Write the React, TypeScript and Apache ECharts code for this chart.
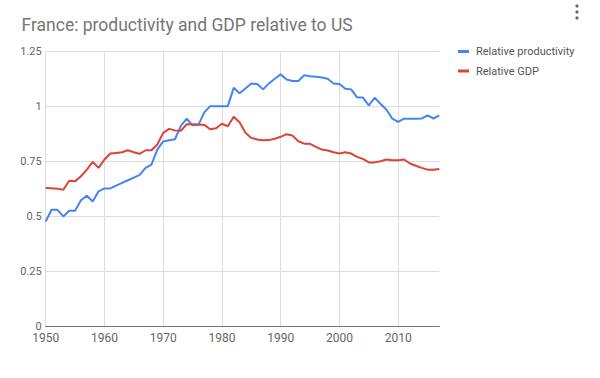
import React, { useEffect, useRef } from "react";
import * as echarts from "echarts";

const years: number[] = [];
for (let y = 1950; y <= 2017; y++) years.push(y);

const productivity = [
  0.477, 0.53, 0.53, 0.5, 0.526, 0.526, 0.573, 0.594, 0.568, 0.614,
  0.627, 0.627, 0.64, 0.652, 0.664, 0.676, 0.688, 0.72, 0.735, 0.803,
  0.84, 0.845, 0.85, 0.91, 0.943, 0.913, 0.915, 0.972, 1.0, 1.0,
  1.0, 1.0, 1.083, 1.058, 1.08, 1.103, 1.1, 1.076, 1.103, 1.124,
  1.144, 1.121, 1.114, 1.114, 1.14, 1.136, 1.133, 1.13, 1.124, 1.103,
  1.1, 1.079, 1.076, 1.04, 1.039, 1.003, 1.038, 1.01, 0.985, 0.943,
  0.929, 0.943, 0.943, 0.943, 0.944, 0.958, 0.944, 0.958,
];

const gdp = [
  0.629, 0.628, 0.626, 0.621, 0.662, 0.659, 0.682, 0.712, 0.747, 0.72,
  0.758, 0.785, 0.788, 0.791, 0.8, 0.791, 0.784, 0.8, 0.8, 0.826,
  0.879, 0.897, 0.89, 0.888, 0.918, 0.918, 0.917, 0.915, 0.895, 0.9,
  0.92, 0.909, 0.952, 0.927, 0.879, 0.856, 0.849, 0.845, 0.846, 0.852,
  0.861, 0.873, 0.867, 0.841, 0.83, 0.829, 0.815, 0.803, 0.799, 0.791,
  0.785, 0.791, 0.785, 0.77, 0.761, 0.745, 0.745, 0.75, 0.758, 0.755,
  0.755, 0.758, 0.74, 0.73, 0.72, 0.712, 0.712, 0.715,
];

const seriesNames = ["Relative productivity", "Relative GDP"];
const titleText = "France: productivity and GDP relative to US";

export default function App() {
  const ref = useRef<HTMLDivElement>(null);
  useEffect(() => {
    if (!ref.current) return;
    const chart = echarts.init(ref.current, null, { renderer: "svg" });
    const font = "Roboto, 'Noto Sans', Arial, sans-serif";
    chart.setOption({
      animation: false,
      backgroundColor: "#ffffff",
      textStyle: { fontFamily: font },
      title: {
        text: titleText,
        left: 16.5,
        top: 11,
        textStyle: { fontSize: 17.5, fontWeight: "normal", color: "#757575", fontFamily: font },
      },
      legend: {
        orient: "vertical",
        left: 453,
        top: 41,
        itemWidth: 11,
        itemHeight: 3,
        itemGap: 8.5,
        icon: "rect",
        textStyle: { fontSize: 11, color: "#555", fontFamily: font, padding: [0, 0, 0, 2] },
        data: seriesNames,
      },
      grid: { left: 45.7, right: 160.7, top: 51, bottom: 51.3, containLabel: false },
      xAxis: {
        type: "value",
        min: 1950,
        max: 2017,
        interval: 10,
        axisLine: { show: true, lineStyle: { color: "#777", width: 1 } },
        axisTick: { show: false },
        axisLabel: {
          color: "#666",
          fontSize: 12,
          margin: 5,
          showMaxLabel: false,
          fontFamily: font,
          formatter: (v: number) => String(v),
        },
        splitLine: { show: true, showMaxLine: false, lineStyle: { color: "#ddd", width: 1 } },
      },
      yAxis: {
        type: "value",
        min: 0,
        max: 1.25,
        interval: 0.25,
        axisLine: { show: false },
        axisTick: { show: false },
        axisLabel: { color: "#666", fontSize: 11, margin: 4, fontFamily: font },
        splitLine: { show: true, lineStyle: { color: "#ddd", width: 1 } },
      },
      graphic: [
        { type: "circle", shape: { cx: 577, cy: 6, r: 1.6 }, style: { fill: "#666" } },
        { type: "circle", shape: { cx: 577, cy: 12, r: 1.6 }, style: { fill: "#666" } },
        { type: "circle", shape: { cx: 577, cy: 18, r: 1.6 }, style: { fill: "#666" } },
      ],
      series: [
        {
          name: seriesNames[0],
          type: "line",
          data: years.map((y, i) => [y, productivity[i]]),
          showSymbol: false,
          lineStyle: { color: "#4285f4", width: 2 },
          itemStyle: { color: "#4285f4" },
        },
        {
          name: seriesNames[1],
          type: "line",
          data: years.map((y, i) => [y, gdp[i]]),
          showSymbol: false,
          lineStyle: { color: "#db4437", width: 2 },
          itemStyle: { color: "#db4437" },
        },
      ],
    });
    return () => chart.dispose();
  }, []);
  return (
    <div
      ref={ref}
      style={{ position: "absolute", left: 0, top: 0, width: 600, height: 378 }}
    />
  );
}
